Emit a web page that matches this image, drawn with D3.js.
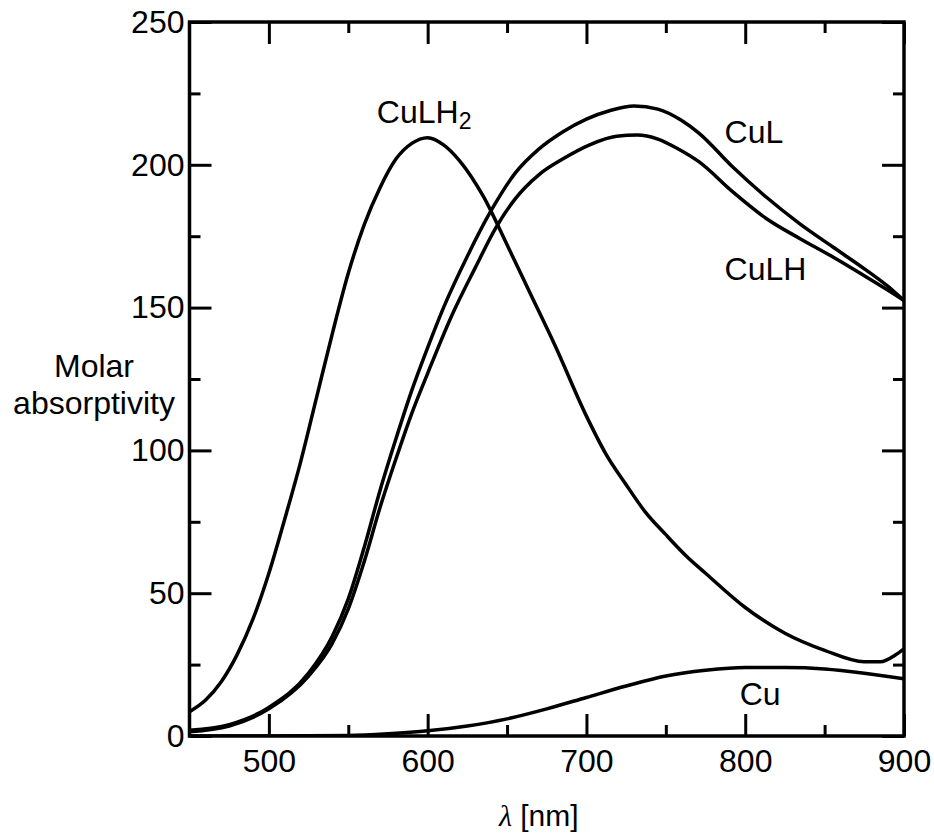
<!DOCTYPE html>
<html>
<head>
<meta charset="utf-8">
<script src="https://cdnjs.cloudflare.com/ajax/libs/d3/7.8.5/d3.min.js"></script>
<style>
body { margin: 0; background: #fff; }
text { font-family: "Liberation Sans", Arial, sans-serif; fill: #000; }
</style>
</head>
<body>
<svg width="934" height="837"></svg>
<script>
// wavelength [nm] / molar absorptivity
var wlCuLH2 = [450, 460, 470, 480, 490, 500, 510, 520, 530, 540, 550, 560, 570, 580, 590, 600, 610, 620, 635, 650, 665, 680, 700, 712, 725, 737, 750, 762, 775, 800, 825, 850, 875, 885, 895, 900]
var epsCuLH2 = [8.5, 12.5, 19, 28.5, 41, 57, 76, 96, 118.5, 141, 162, 179, 192, 202, 207.5, 209.5, 207, 201.5, 189, 172, 154.5, 137, 112, 99, 88, 78.5, 70.5, 63.5, 57, 45, 36, 30, 26, 26, 28.5, 30.5]

var wlCuL = [450, 475, 500, 525, 540, 550, 560, 570, 580, 590, 600, 610, 625, 640, 655, 670, 685, 700, 715, 730, 745, 760, 771, 792, 813, 834, 855, 876, 893, 900]
var epsCuL = [2, 4, 10, 22, 35, 48, 66, 86, 104, 121, 136, 150, 168, 184, 197, 205.5, 211.5, 216, 219, 220.6, 219.5, 215.5, 211, 199.3, 188.8, 179.5, 171.3, 163.2, 156, 152.5]

var wlCuLH = [450, 475, 500, 525, 540, 550, 560, 570, 580, 590, 600, 615, 630, 643, 655, 670, 685, 702, 719, 732, 745, 757, 771, 792, 813, 834, 855, 876, 893, 900]
var epsCuLH = [1.5, 3.5, 9.5, 21, 32.5, 44.5, 61, 80, 97, 113, 127, 147, 164, 178, 188, 196.5, 202, 207, 210, 210.4, 209, 205.8, 201, 190.6, 181.3, 174.3, 167.8, 160.8, 155, 152.5]

var wlCu = [450, 500, 550, 575, 600, 625, 650, 675, 700, 725, 750, 775, 800, 825, 850, 875, 900]
var epsCu = [0, 0, 0.2, 0.8, 1.8, 3.5, 6, 9.5, 13.5, 17.5, 21, 23, 24, 24, 23.5, 22, 20]

var xMajor = [500, 600, 700, 800, 900]
var xMinor = [550, 650, 750, 850]
var yMajor = [0, 50, 100, 150, 200, 250]
var yMinor = [25, 75, 125, 175, 225]

var svg = d3.select("svg"),
    width = +svg.attr("width"),
    height = +svg.attr("height");

var margin = { left: 189.5, top: 22, right: 30, bottom: 101 }

var x = d3.scaleLinear().domain([450, 900]).range([margin.left, width - margin.right])
var y = d3.scaleLinear().domain([0, 250]).range([height - margin.bottom, margin.top])

var x0 = x.range()[0], x1 = x.range()[1], y0 = y.range()[0], y1 = y.range()[1]

// ticks point inward on all four sides
function drawAxis(axis, tx, ty, vals, size, labels) {
    var g = svg.append("g")
        .attr("transform", "translate(" + tx + "," + ty + ")")
        .call(axis.tickValues(vals).tickSize(-size).tickSizeOuter(0)
            .tickFormat(labels ? d3.format("d") : ""))
    g.select(".domain").remove()
    g.selectAll(".tick line").attr("stroke", "#000").attr("stroke-width", 3)
    g.selectAll(".tick text").attr("font-size", 32).attr("fill", "#000")
    return g
}

drawAxis(d3.axisBottom(x).tickPadding(13), 0, y0, xMajor, 22, true)
drawAxis(d3.axisBottom(x), 0, y0, xMinor, 11, false)
drawAxis(d3.axisTop(x), 0, y1, xMajor, 22, false)
drawAxis(d3.axisTop(x), 0, y1, xMinor, 11, false)
drawAxis(d3.axisLeft(y).tickPadding(5), x0, 0, yMajor, 22, true)
drawAxis(d3.axisLeft(y), x0, 0, yMinor, 11, false)
drawAxis(d3.axisRight(y), x1, 0, yMajor, 22, false)
drawAxis(d3.axisRight(y), x1, 0, yMinor, 11, false)

svg.append("defs").append("clipPath").attr("id", "plot")
    .append("rect")
    .attr("x", x0).attr("y", y1)
    .attr("width", x1 - x0).attr("height", y0 - y1)

var line = d3.line()
    .x(d => x(d[0]))
    .y(d => y(d[1]))
    .curve(d3.curveMonotoneX)

var series = [
    d3.zip(wlCuLH2, epsCuLH2),
    d3.zip(wlCuL, epsCuL),
    d3.zip(wlCuLH, epsCuLH),
    d3.zip(wlCu, epsCu)
]

svg.append("g")
    .attr("clip-path", "url(#plot)")
    .selectAll("path")
    .data(series)
    .enter().append("path")
    .attr("d", line)
    .attr("fill", "none")
    .attr("stroke", "#000")
    .attr("stroke-width", 3.5)
    .attr("stroke-linejoin", "round")

// frame
svg.append("rect")
    .attr("x", x0).attr("y", y1)
    .attr("width", x1 - x0).attr("height", y0 - y1)
    .attr("fill", "none")
    .attr("stroke", "#000")
    .attr("stroke-width", 3.5)

// curve labels
var lab = svg.append("g").attr("font-size", 32)
var t = lab.append("text").attr("x", x(568)).attr("y", y(214.6))
t.append("tspan").text("CuLH")
t.append("tspan").attr("font-size", 23).attr("dy", 6).text("2")
lab.append("text").attr("x", x(787)).attr("y", y(207.6)).text("CuL")
lab.append("text").attr("x", x(787)).attr("y", y(159.7)).text("CuLH")
lab.append("text").attr("x", x(796.5)).attr("y", y(10.9)).text("Cu")

// axis titles
var yt = svg.append("text").attr("font-size", 32).attr("text-anchor", "middle")
yt.append("tspan").attr("x", 94).attr("y", 377).text("Molar")
yt.append("tspan").attr("x", 94).attr("y", 414).text("absorptivity")

var xt = svg.append("text")
    .attr("x", (x0 + x1) / 2 - 8).attr("y", 826)
    .attr("font-size", 30).attr("text-anchor", "middle")
xt.append("tspan").attr("font-family", "Liberation Serif, serif").attr("font-style", "italic").text("λ")
xt.append("tspan").text(" [nm]")
</script>
</body>
</html>
